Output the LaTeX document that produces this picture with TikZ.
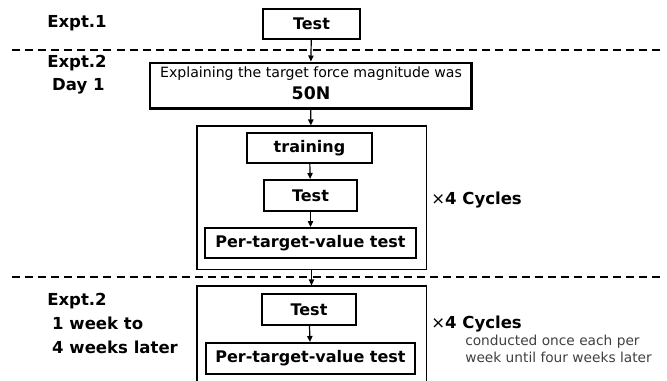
\documentclass[tikz,border=0pt]{standalone}
\usepackage{fontspec}
\setmainfont{DejaVu Sans}
\usetikzlibrary{arrows.meta}
\tikzset{
  box/.style={draw=black, line width=1.5pt, inner sep=0pt, font=\bfseries\fontsize{12}{14}\selectfont},
  bigbox/.style={draw=black, line width=2.2pt, inner sep=0pt, align=center},
  frame/.style={draw=black, line width=0.8pt, inner sep=0pt},
  lbl/.style={inner sep=0pt, font=\bfseries\fontsize{12.4}{14}\selectfont},
  flow/.style={-{Triangle[length=4.5pt,width=4pt]}, line width=0.9pt},
  sep/.style={dashed, dash pattern=on 6pt off 3.8pt, line width=1.4pt}
}
\begin{document}
\begin{tikzpicture}[x=0.75pt,y=-0.75pt]
\useasboundingbox (0,0) rectangle (667,380);
% separators
\draw[sep] (12,50)--(662,50);
\draw[sep] (12,277)--(662,277);
% Expt.1
\node[lbl, anchor=west] (e1) at (47,23) {Expt.1};
\node[box, minimum width=72.8pt, minimum height=22.5pt] (t1) at (311.5,24) {Test};
% Expt.2 day 1
\node[lbl, align=left, anchor=north west, font=\bfseries\fontsize{12.4}{17}\selectfont] (e2) at (47,55) {Expt.2\\ \hspace{0.3em}Day 1};
\node[bigbox, minimum width=240.8pt, minimum height=33.8pt] (ex) at (310.5,85.5) {};
\node[inner sep=0pt, font=\fontsize{10.6}{12}\selectfont] (ext) at (311,74) {Explaining the target force magnitude was};
\node[inner sep=0pt, font=\bfseries\fontsize{13}{16}\selectfont] (fifty) at (311,93) {50N};
\node[frame, minimum width=171.8pt, minimum height=107.3pt] (o1) at (311.5,197.5) {};
\node[box, minimum width=93.8pt, minimum height=22.5pt] (tr) at (309.5,148) {training};
\node[box, minimum width=69.8pt, minimum height=23.3pt] (t2) at (310.5,195.5) {Test};
\node[box, minimum width=158.3pt, minimum height=22.5pt] (p1) at (310.5,243) {Per-target-value test};
\node[lbl, anchor=west] (c1) at (431,200) {\mdseries×\bfseries4 Cycles};
% Expt.2 weeks
\node[lbl, align=left, anchor=north west, font=\bfseries\fontsize{12.4}{18}\selectfont] (e3) at (47,293) {Expt.2\\ \hspace{0.3em}1 week to\\ \hspace{0.3em}4 weeks later};
\node[frame, minimum width=171.8pt, minimum height=81pt] (o2) at (311.5,340) {};
\node[box, minimum width=70.5pt, minimum height=23.3pt] (t3) at (309,309.5) {Test};
\node[box, minimum width=156.8pt, minimum height=23.3pt] (p2) at (310.5,358.5) {Per-target-value test};
\node[lbl, anchor=west] (c2) at (431,324) {\mdseries×\bfseries4 Cycles};
\node[inner sep=0pt, anchor=north west, align=left, text=black!75, font=\fontsize{10.3}{12.8}\selectfont] (note) at (465,335) {conducted once each per\\week until four weeks later};
% arrows
\draw[flow] (t1)--(ex);
\draw[flow] (ex)--(o1);
\draw[flow] (tr)--(t2);
\draw[flow] (t2)--(p1);
\draw[flow] (o1)--(o2);
\draw[flow] (t3)--(p2);
\end{tikzpicture}
\end{document}
